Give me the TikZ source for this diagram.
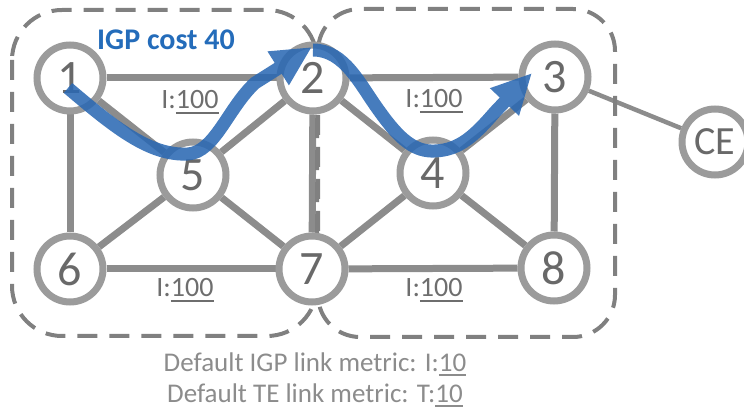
\documentclass[tikz,border=0pt]{standalone}
\usepackage{fontspec}
\setmainfont{Carlito}
\usetikzlibrary{arrows.meta}

\definecolor{edgegray}{RGB}{140,140,140}
\definecolor{ringgray}{RGB}{155,155,155}
\definecolor{digitgray}{RGB}{105,105,105}
\definecolor{areagray}{RGB}{128,128,128}
\definecolor{labelgray}{RGB}{110,110,110}
\definecolor{notegray}{RGB}{140,140,140}
\definecolor{flowblue}{RGB}{42,104,179}
\definecolor{titleblue}{RGB}{36,108,186}

\pgfdeclarelayer{background}
\pgfsetlayers{background,main}

% underlined number with a rule scaled to the text
\newcommand\ulnum[1]{\sbox0{#1}\rlap{\rule[-5pt]{\wd0}{2.2pt}}\usebox0}

\begin{document}
\begin{tikzpicture}[x=1pt,y=-1pt,
  router/.style={circle, draw=ringgray, line width=7pt, fill=white,
    minimum size=66pt, inner sep=0pt, text=digitgray,
    font=\fontsize{48}{48}\selectfont},
  cerouter/.style={router, font=\fontsize{40}{40}\selectfont},
  link/.style={draw=edgegray, line width=7pt},
  celink/.style={draw=edgegray, line width=4.5pt},
  area/.style={draw=areagray, line width=4pt, dash pattern=on 20pt off 12pt},
  metric/.style={text=labelgray, font=\fontsize{28}{30}\selectfont,
    anchor=base, inner sep=0pt},
  note/.style={text=notegray, font=\fontsize{27}{30}\selectfont,
    anchor=base, inner sep=0pt},
  flow/.style={line width=13pt, draw=flowblue,
    -{Triangle[length=40pt,width=37pt]}}
]
\useasboundingbox (0,0) rectangle (744,411);

% routers
\node[router] (n1) at (70,78) {1};
\node[router] (n2) at (313,78) {2};
\node[router] (n3) at (555,77) {3};
\node[router] (n5) at (193,175) {5};
\node[router] (n4) at (433,173) {4};
\node[router] (n6) at (70,269) {6};
\node[router] (n7) at (312,269) {7};
\node[router] (n8) at (554,268) {8};
\node[cerouter] (ce) at (715,142) {CE};

\begin{pgfonlayer}{background}
% links
\draw[link] (n1) -- (n2);
\draw[link] (n2) -- (n3);
\draw[link] (n1) -- (n6);
\draw[link] (n1) -- (n5);
\draw[link] (n2) -- (n5);
\draw[link] (n2) -- (n7);
\draw[link] (n2) -- (n4);
\draw[link] (n3) -- (n4);
\draw[link] (n3) -- (n8);
\draw[link] (n5) -- (n6);
\draw[link] (n5) -- (n7);
\draw[link] (n6) -- (n7);
\draw[link] (n7) -- (n4);
\draw[link] (n7) -- (n8);
\draw[link] (n4) -- (n8);
\draw[celink] (n3) -- (ce);
% IGP areas
\draw[area, rounded corners=50pt] (12,10) rectangle (317,336);
\draw[area, rounded corners=42pt] (318,9) rectangle (615,337);
\end{pgfonlayer}

% link metrics
\node[metric] (m12) at (190,109) {I:\ulnum{100}};
\node[metric] (m23) at (434,108) {I:\ulnum{100}};
\node[metric] (m67) at (185,297) {I:\ulnum{100}};
\node[metric] (m78) at (434,297) {I:\ulnum{100}};

% path label
\node[anchor=base west, inner sep=0pt, text=titleblue,
  font=\bfseries\fontsize{30}{30}\selectfont] (igp) at (97,50) {IGP cost 40};

% IGP shortest path
\begin{scope}[transparency group, opacity=0.87]
\draw[flow] (68,88) .. controls (115,128) and (150,156) .. (188,154)
  .. controls (215,152) and (228,108) .. (255,83) -- (312,47);
\draw[flow] (313,50) .. controls (345,50) and (360,85) .. (380,112)
  .. controls (400,140) and (415,152) .. (435,151)
  .. controls (460,150) and (475,135) .. (495,112) -- (532,73);
\end{scope}

% defaults
\node[note] (l1) at (315,371) {Default IGP link metric: I:\ulnum{10}};
\node[note] (l2) at (315,402) {Default TE link metric: T:\ulnum{10}};
\end{tikzpicture}
\end{document}
